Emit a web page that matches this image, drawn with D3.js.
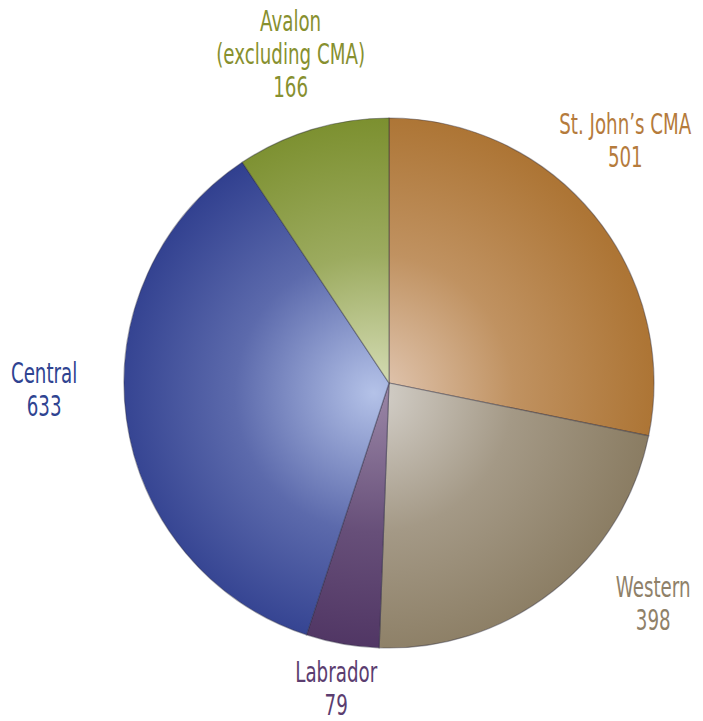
<!DOCTYPE html>
<html>
<head>
<meta charset="utf-8">
<script src="https://cdn.jsdelivr.net/npm/d3@7"></script>
<style>
  body { margin: 0; background: #fff; }
  text { font-family: "Liberation Sans Narrow", "DejaVu Sans Condensed", sans-serif; }
</style>
</head>
<body>
<script>
const width  = 703;
const height = 721;
const cx     = 389;
const cy     = 383;
const radius = 265;

// regions, clockwise from 12 o'clock
const regions = ['St. John\u2019s CMA', 'Western', 'Labrador', 'Central', 'Avalon'];
const counts  = [501, 398, 79, 633, 166];
const labels  = [['St. John\u2019s CMA', '501'], ['Western', '398'], ['Labrador', '79'],
                 ['Central', '633'], ['Avalon', '(excluding CMA)', '166']];

const rimColors    = ['#ad7535', '#8a7c62', '#4c3160', '#2c3b8c', '#7b8f2e'];
const centerColors = ['#e2c8b4', '#d4d0ca', '#9a86a6', '#b4c2e8', '#d8dfba'];
const textColors   = ['#b57b3c', '#8f8169', '#5b3d70', '#2f4391', '#87902f'];

// label nudges away from the plain centroid position
const nudge = [[-27, -28], [54, -47], [7, -30], [-8, -40], [0, -4]];

const data = regions.map((r, i) => ({name: r, value: counts[i], i: i}));

const svg = d3.select('body').append('svg')
    .attr('width', width)
    .attr('height', height);

const defs = svg.append('defs');
data.forEach(d => {
  const g = defs.append('radialGradient')
      .attr('id', 'grad' + d.i)
      .attr('gradientUnits', 'userSpaceOnUse')
      .attr('cx', -15).attr('cy', 10)
      .attr('r', radius * 1.05);
  g.append('stop').attr('offset', '0%').attr('stop-color', centerColors[d.i]);
  g.append('stop').attr('offset', '50%').attr('stop-color', d3.interpolateRgb(centerColors[d.i], rimColors[d.i])(0.65));
  g.append('stop').attr('offset', '100%').attr('stop-color', rimColors[d.i]);
});

const pie = d3.pie()
    .sort(null)
    .value(d => d.value);

const arc = d3.arc()
    .innerRadius(0)
    .outerRadius(radius);

const labelArc = d3.arc()
    .innerRadius(340)
    .outerRadius(340);

const g = svg.append('g')
    .attr('transform', 'translate(' + cx + ',' + cy + ')');

const arcs = pie(data);

g.selectAll('path.slice')
  .data(arcs)
  .enter().append('path')
    .attr('class', 'slice')
    .attr('d', arc)
    .style('fill', d => 'url(#grad' + d.data.i + ')')
    .style('stroke', 'rgba(40,40,60,0.4)')
    .style('stroke-width', 1.2);

const fontSize = 29;
const lineH    = 33;
const capH     = 21;
const sx       = 0.70;

const lab = svg.selectAll('g.label')
  .data(arcs)
  .enter().append('g')
    .attr('class', 'label')
    .attr('transform', d => {
      const c = labelArc.centroid(d);
      const n = nudge[d.data.i];
      return 'translate(' + (cx + c[0] + n[0]) + ',' + (cy + c[1] + n[1]) + ') scale(' + sx + ',1)';
    });

lab.each(function(d) {
  const lines = labels[d.data.i];
  const sel = d3.select(this);
  lines.forEach((t, k) => {
    sel.append('text')
      .attr('text-anchor', 'middle')
      .attr('y', (k - (lines.length - 1) / 2) * lineH + capH / 2)
      .style('font-size', fontSize + 'px')
      .style('fill', textColors[d.data.i])
      .text(t);
  });
});
</script>
</body>
</html>
